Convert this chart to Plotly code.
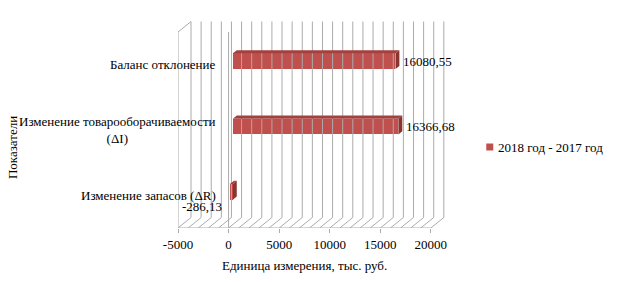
import plotly.graph_objects as go

# ---- data ----
categories = ["Изменение запасов (ΔR)",
              "Изменение товарооборачиваемости<br>(ΔI)",
              "Баланс отклонение"]
values = [-286.13, 16366.68, 16080.55]
series_name = "2018 год - 2017 год"
tick_values = [-5000, 0, 5000, 10000, 15000, 20000]
tick_labels = ["-5000", "0", "5000", "10000", "15000", "20000"]
x_title = "Единица измерения, тыс. руб."
y_title = "Показатели"

# ---- style / geometry ----
FONT = "Liberation Serif, 'Times New Roman', 'DejaVu Serif', serif"
FS = 13
FRONT = "#C0504D"
TOP = "#A4403D"
SIDE = "#8A3431"
GRID = "#ABABAB"
XMIN, XMAX = -5000, 20000
MINOR = 1000
DX = 1285.0        # depth offset in x units
DY = 10.5          # depth offset in y units
H = 196.0          # front wall height (y units)
F0 = 0.33          # bar front depth fraction
G = 0.30           # bar depth fraction
BAR_H = 15.7
PW = 267.2         # plot width px
PH = 207.0         # plot height px

def px_x(wx):
    return (wx - 178) / PW

def px_y(wy):
    return (228 - wy) / PH

n = len(categories)
cat_y = [H * (i + 0.5) / n for i in range(n)]

fig = go.Figure()

# gridlines (3D box)
gx, gy = [], []
g = XMIN
while g <= XMAX:
    gx += [g + DX, g + DX, None, g, g + DX, None]
    gy += [DY, H + DY, None, 0, DY, None]
    g += MINOR
gx += [XMIN, XMAX, None, XMIN, XMIN, XMIN + DX, None, 0, 0, None]
gy += [0, 0, None, 0, H, H + DY, None, 0, H, None]
fig.add_trace(go.Scatter(x=gx, y=gy, mode="lines", line=dict(color=GRID, width=1),
                         hoverinfo="skip", showlegend=False))

# bars front faces
shift_x = F0 * DX
shift_y = F0 * DY
bar_y = [c + shift_y for c in cat_y]
fig.add_trace(go.Bar(orientation="h", x=values, y=bar_y, base=[shift_x] * n,
                     width=BAR_H, marker=dict(color=FRONT, line=dict(width=0)),
                     name=series_name, showlegend=False))

# top and side faces
for v, yc in zip(values, bar_y):
    x0 = min(shift_x, shift_x + v)
    x1 = max(shift_x, shift_x + v)
    yt = yc + BAR_H / 2
    yb = yc - BAR_H / 2
    ddx, ddy = G * DX, G * DY
    fig.add_trace(go.Scatter(x=[x0, x1, x1 + ddx, x0 + ddx, x0],
                             y=[yt, yt, yt + ddy, yt + ddy, yt],
                             mode="lines", fill="toself", fillcolor=TOP,
                             line=dict(width=0, color=TOP), hoverinfo="skip", showlegend=False))
    fig.add_trace(go.Scatter(x=[x1, x1 + ddx, x1 + ddx, x1, x1],
                             y=[yb, yb + ddy, yt + ddy, yt, yb],
                             mode="lines", fill="toself", fillcolor=SIDE,
                             line=dict(width=0, color=SIDE), hoverinfo="skip", showlegend=False))

annotations = []
for v, yc in zip(values, bar_y):
    txt = f"{v:.2f}".replace(".", ",")
    if v >= 0:
        annotations.append(dict(x=shift_x + v + G * DX, y=yc, xref="x", yref="y", text=txt,
                                showarrow=False, xanchor="left", yanchor="middle", xshift=2))
    else:
        annotations.append(dict(x=shift_x + v, y=yc, xref="x", yref="y", text=txt,
                                showarrow=False, xanchor="right", yanchor="middle",
                                xshift=-6, yshift=-15))
for c, yc in zip(categories, cat_y):
    annotations.append(dict(x=-1000, y=yc, xref="x", yref="y", text=c, showarrow=False,
                            xanchor="right", yanchor="middle", align="center"))
annotations.append(dict(x=px_x(305), y=px_y(265), xref="paper", yref="paper", text=x_title,
                        showarrow=False, xanchor="center", yanchor="middle"))
annotations.append(dict(x=px_x(12), y=px_y(148), xref="paper", yref="paper", text=y_title,
                        showarrow=False, xanchor="center", yanchor="middle", textangle=-90))
# legend (manual)
annotations.append(dict(x=px_x(496), y=px_y(147), xref="paper", yref="paper", text=series_name,
                        showarrow=False, xanchor="left", yanchor="middle"))
shapes = [dict(type="rect", xref="paper", yref="paper",
               x0=px_x(486.5), x1=px_x(493.5), y0=px_y(150.5), y1=px_y(143.5),
               fillcolor=FRONT, line=dict(width=0))]

fig.update_layout(
    width=616, height=274,
    margin=dict(l=170, r=616 - 170 - PW, t=13, b=274 - 13 - PH),
    paper_bgcolor="white", plot_bgcolor="white",
    font=dict(family=FONT, size=FS, color="black"),
    showlegend=False,
    xaxis=dict(range=[-5000, 21400], tickvals=tick_values, ticktext=tick_labels,
               showgrid=False, zeroline=False, showline=False,
               ticks="outside", ticklen=4, tickcolor=GRID, tickwidth=1,
               tickfont=dict(family=FONT, size=FS, color="black"), fixedrange=True),
    yaxis=dict(range=[0, PH], visible=False, fixedrange=True),
    annotations=annotations,
    shapes=shapes,
    bargap=0,
)

fig.write_html("out.html")
